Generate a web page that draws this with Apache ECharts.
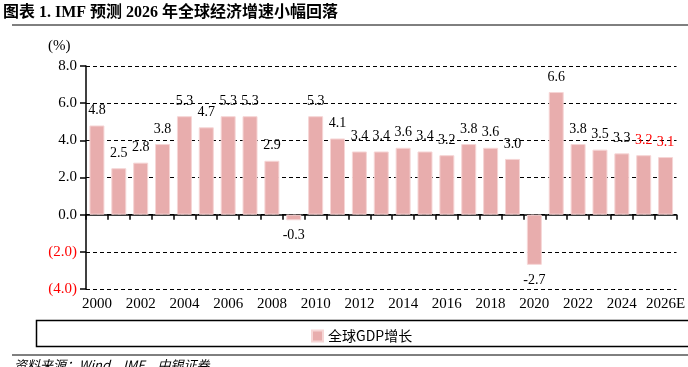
<!DOCTYPE html>
<html>
<head>
<meta charset="utf-8">
<script src="https://cdn.jsdelivr.net/npm/echarts@6/dist/echarts.min.js"></script>
<style>
  html, body { margin: 0; padding: 0; background: #fff; }
  #gdp-chart { width: 688px; height: 367px; }
</style>
</head>
<body>
<div id="gdp-chart"></div>
<script>
// 全球GDP增长 (%), 2000-2026E, IMF
let years = ['2000','2001','2002','2003','2004','2005','2006','2007','2008','2009',
  '2010','2011','2012','2013','2014','2015','2016','2017','2018','2019',
  '2020','2021','2022','2023','2024','2025','2026E'];
let growth = [4.8, 2.5, 2.8, 3.8, 5.3, 4.7, 5.3, 5.3, 2.9, -0.3,
  5.3, 4.1, 3.4, 3.4, 3.6, 3.4, 3.2, 3.8, 3.6, 3.0,
  -2.7, 6.6, 3.8, 3.5, 3.3, 3.2, 3.1];
let forecastFrom = '2025';

let serif = '"Liberation Serif", "Times New Roman", serif';
let cjk = '"Noto Sans CJK SC", sans-serif';

let myChart = echarts.init(document.getElementById('gdp-chart'));

let barData = growth.map(function (v, i) {
  let isForecast = years[i] >= forecastFrom;
  return {
    value: v,
    label: {
      position: v < 0 ? 'bottom' : 'top',
      color: isForecast ? '#FF0000' : '#000'
    }
  };
});

myChart.setOption({
  animation: false,
  grid: {
    left: 86,
    right: 3,
    top: 66,
    bottom: 78
  },
  graphic: [
    {
      type: 'text', left: 3, top: 5,
      style: { text: '图表 1. IMF 预测 2026 年全球经济增速小幅回落', font: 'bold 16px ' + serif + ', ' + cjk, fill: '#000' }
    },
    {
      type: 'line', shape: { x1: 12, y1: 25, x2: 688, y2: 25 },
      style: { stroke: '#000', lineWidth: 1 }
    },
    {
      type: 'text', left: 48, top: 39,
      style: { text: '(%)', font: '15px ' + serif, fill: '#000' }
    },
    {
      type: 'rect', shape: { x: 36.5, y: 320.5, width: 660, height: 26 },
      style: { fill: 'none', stroke: '#000', lineWidth: 1.5 }
    },
    {
      type: 'line', shape: { x1: 12, y1: 355, x2: 688, y2: 355 },
      style: { stroke: '#000', lineWidth: 1 }
    },
    {
      type: 'text', left: 14, top: 359,
      style: { text: '资料来源：Wind，IMF，中银证券', font: 'italic 13px ' + cjk, fill: '#000' }
    }
  ],
  legend: {
    data: ['全球GDP增长'],
    left: 306,
    top: 324,
    itemWidth: 11,
    itemHeight: 11,
    itemGap: 10,
    icon: 'rect',
    textStyle: { fontFamily: cjk, fontSize: 14, color: '#000' }
  },
  xAxis: [
    {
      type: 'category',
      data: years,
      axisLine: { show: false, onZero: false },
      axisTick: { show: false },
      axisLabel: {
        interval: 1,
        fontFamily: serif,
        fontSize: 15,
        color: '#000',
        margin: 8
      }
    },
    {
      type: 'category',
      data: years,
      position: 'bottom',
      axisLine: { onZero: true, lineStyle: { color: '#000', width: 1.5 } },
      axisTick: { show: true, interval: 0, length: 5, lineStyle: { color: '#000', width: 1.5 } },
      axisLabel: { show: false }
    }
  ],
  yAxis: [
    {
      type: 'value',
      min: -4,
      max: 8,
      interval: 2,
      axisLine: { show: true, lineStyle: { color: '#000', width: 1.5 } },
      axisTick: { show: true, length: 6, lineStyle: { color: '#000', width: 1.5 } },
      axisLabel: {
        fontFamily: serif,
        fontSize: 15,
        margin: 9,
        color: function (v) { return Number(v) < 0 ? '#FF0000' : '#000'; },
        formatter: function (v) {
          return v < 0 ? '(' + Math.abs(v).toFixed(1) + ')' : v.toFixed(1);
        }
      },
      splitLine: {
        show: true,
        lineStyle: { color: '#000', type: [4, 3], width: 1.2 }
      }
    }
  ],
  series: [
    {
      name: '全球GDP增长',
      type: 'bar',
      data: barData,
      barWidth: 15,
      itemStyle: { color: '#E8ADAD', borderColor: '#F6D6D6', borderWidth: 1 },
      label: {
        show: true,
        distance: 8,
        fontFamily: serif,
        fontSize: 14,
        formatter: function (p) { return p.value.toFixed(1); }
      }
    }
  ]
});
</script>
</body>
</html>
